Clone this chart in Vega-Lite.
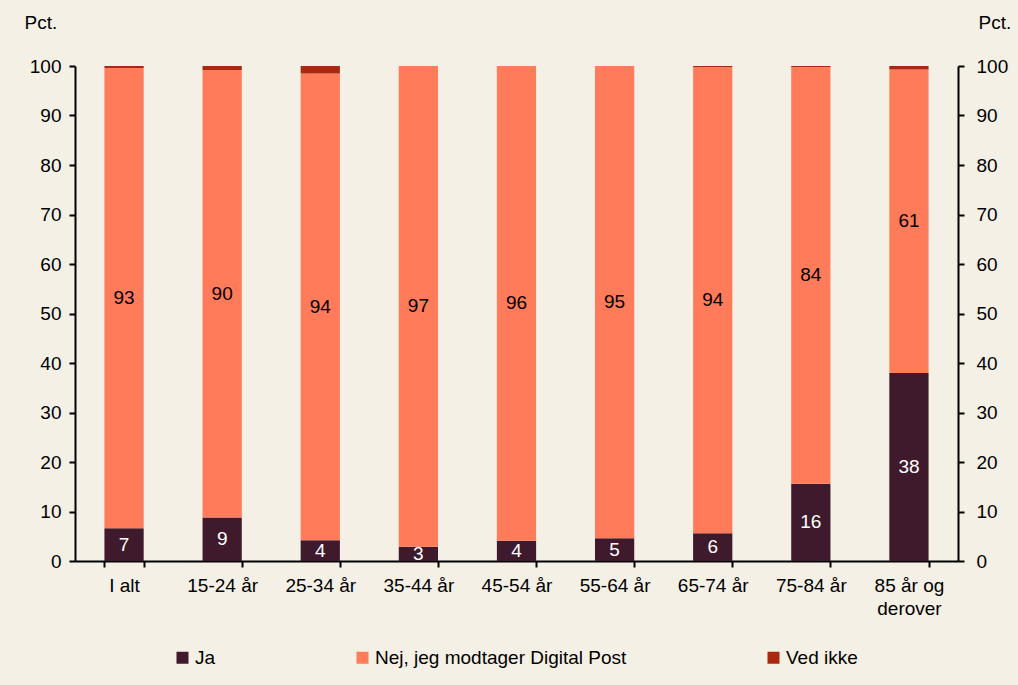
{
  "$schema": "https://vega.github.io/schema/vega-lite/v6.json",
  "width": 883,
  "height": 495,
  "autosize": {"type": "none"},
  "padding": {"left": 75, "top": 66, "right": 60, "bottom": 124},
  "background": "#f4f0e6",
  "config": {
    "view": {"stroke": null},
    "font": "Liberation Sans",
    "axis": {"labelFont": "Liberation Sans", "titleFont": "Liberation Sans", "labelColor": "#000000", "titleColor": "#000000", "domainColor": "#000000", "tickColor": "#000000"}
  },
  "data": {
    "values": [
      {"cat": "I alt", "ord": 1, "serie": "Ja", "value": 6.6},
      {"cat": "I alt", "ord": 2, "serie": "Nej, jeg modtager Digital Post", "value": 93.0},
      {"cat": "I alt", "ord": 3, "serie": "Ved ikke", "value": 0.4},
      {"cat": "15-24 år", "ord": 1, "serie": "Ja", "value": 8.8},
      {"cat": "15-24 år", "ord": 2, "serie": "Nej, jeg modtager Digital Post", "value": 90.4},
      {"cat": "15-24 år", "ord": 3, "serie": "Ved ikke", "value": 0.8},
      {"cat": "25-34 år", "ord": 1, "serie": "Ja", "value": 4.2},
      {"cat": "25-34 år", "ord": 2, "serie": "Nej, jeg modtager Digital Post", "value": 94.3},
      {"cat": "25-34 år", "ord": 3, "serie": "Ved ikke", "value": 1.5},
      {"cat": "35-44 år", "ord": 1, "serie": "Ja", "value": 2.9},
      {"cat": "35-44 år", "ord": 2, "serie": "Nej, jeg modtager Digital Post", "value": 97.1},
      {"cat": "35-44 år", "ord": 3, "serie": "Ved ikke", "value": 0.0},
      {"cat": "45-54 år", "ord": 1, "serie": "Ja", "value": 4.1},
      {"cat": "45-54 år", "ord": 2, "serie": "Nej, jeg modtager Digital Post", "value": 95.9},
      {"cat": "45-54 år", "ord": 3, "serie": "Ved ikke", "value": 0.0},
      {"cat": "55-64 år", "ord": 1, "serie": "Ja", "value": 4.6},
      {"cat": "55-64 år", "ord": 2, "serie": "Nej, jeg modtager Digital Post", "value": 95.4},
      {"cat": "55-64 år", "ord": 3, "serie": "Ved ikke", "value": 0.0},
      {"cat": "65-74 år", "ord": 1, "serie": "Ja", "value": 5.6},
      {"cat": "65-74 år", "ord": 2, "serie": "Nej, jeg modtager Digital Post", "value": 94.2},
      {"cat": "65-74 år", "ord": 3, "serie": "Ved ikke", "value": 0.2},
      {"cat": "75-84 år", "ord": 1, "serie": "Ja", "value": 15.6},
      {"cat": "75-84 år", "ord": 2, "serie": "Nej, jeg modtager Digital Post", "value": 84.2},
      {"cat": "75-84 år", "ord": 3, "serie": "Ved ikke", "value": 0.2},
      {"cat": "85 år og derover", "ord": 1, "serie": "Ja", "value": 38.0},
      {"cat": "85 år og derover", "ord": 2, "serie": "Nej, jeg modtager Digital Post", "value": 61.3},
      {"cat": "85 år og derover", "ord": 3, "serie": "Ved ikke", "value": 0.7}
    ]
  },
  "transform": [
    {"stack": "value", "groupby": ["cat"], "sort": [{"field": "ord", "order": "ascending"}], "as": ["v0", "v1"]},
    {"calculate": "(datum.v0 + datum.v1) / 2", "as": "mid"}
  ],
  "layer": [
    {
      "mark": {"type": "bar"},
      "encoding": {
        "x": {
          "field": "cat", "type": "nominal", "sort": null,
          "scale": {"paddingInner": 0.6, "paddingOuter": 0.3},
          "axis": {"title": null, "labelAngle": 0, "labelFontSize": 19, "labelPadding": 9, "tickBand": "extent", "tickSize": 6, "tickWidth": 2, "domainWidth": 2, "labelLineHeight": 23,
            "labelExpr": "datum.label == '85 år og derover' ? ['85 år og', 'derover'] : datum.label"}
        },
        "y": {
          "field": "v0", "type": "quantitative",
          "scale": {"domain": [0, 100], "nice": false},
          "axis": {"orient": "left", "values": [0,10,20,30,40,50,60,70,80,90,100], "grid": false, "labelFontSize": 19, "labelPadding": 8, "tickSize": 6, "tickWidth": 2, "domainWidth": 2,
            "title": "Pct.", "titleAngle": 0, "titleFontSize": 19, "titleFontWeight": "normal", "titleAlign": "left", "titleBaseline": "middle", "titleX": -51, "titleY": -44}
        },
        "y2": {"field": "v1"},
        "color": {
          "field": "serie", "type": "nominal",
          "scale": {"domain": ["Ja", "Nej, jeg modtager Digital Post", "Ved ikke"], "range": ["#3f1a2c", "#ff7b5a", "#a8290f"]},
          "legend": {"title": null, "orient": "none", "direction": "horizontal", "legendX": 98, "legendY": 582, "symbolType": "square", "symbolSize": 144, "symbolStrokeWidth": 0, "labelFontSize": 19, "labelColor": "#000000", "labelOffset": 3, "columnPadding": 137, "labelLimit": 400}
        }
      }
    },
    {
      "transform": [{"filter": "datum.serie != 'Ved ikke'"}],
      "mark": {"type": "text", "fontSize": 19, "baseline": "middle", "align": "center"},
      "encoding": {
        "x": {"field": "cat", "type": "nominal", "sort": null},
        "y": {
          "field": "mid", "type": "quantitative",
          "axis": {"orient": "right", "values": [0,10,20,30,40,50,60,70,80,90,100], "grid": false, "labelFontSize": 19, "labelPadding": 12, "tickSize": 6, "tickWidth": 2, "domainWidth": 2,
            "title": "Pct.", "titleAngle": 0, "titleFontSize": 19, "titleFontWeight": "normal", "titleAlign": "left", "titleBaseline": "middle", "titleX": 20, "titleY": -44}
        },
        "text": {"field": "value", "type": "quantitative", "format": ".0f"},
        "color": {"condition": {"test": "datum.serie == 'Ja'", "value": "#ffffff"}, "value": "#000000"}
      }
    }
  ],
  "resolve": {"axis": {"y": "independent"}}
}
